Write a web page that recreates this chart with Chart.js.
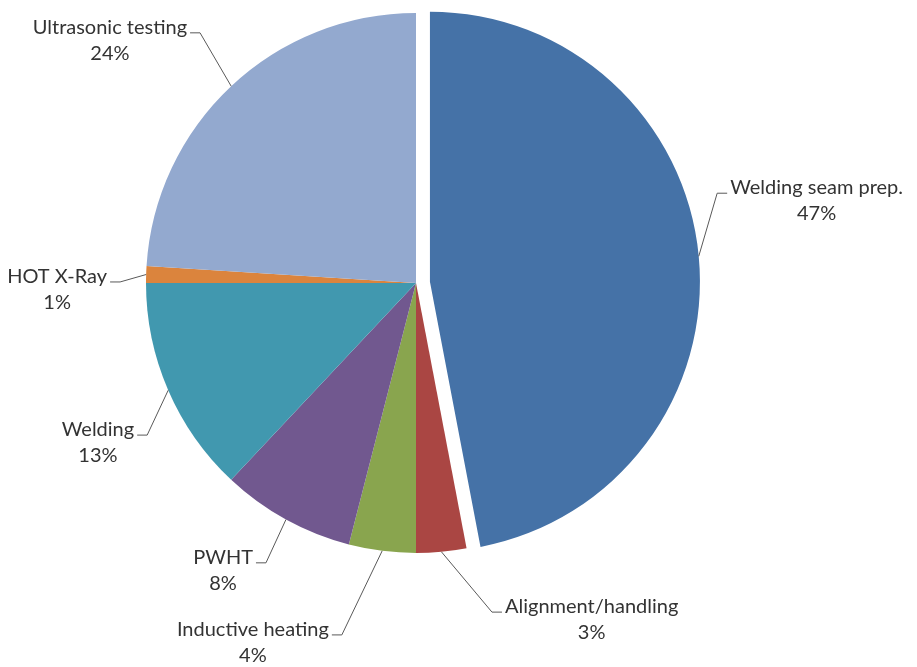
<!DOCTYPE html>
<html>
<head>
<meta charset="utf-8">
<title>Share of working time per process step</title>
<script src="https://cdn.jsdelivr.net/npm/chart.js@4/dist/chart.umd.min.js"></script>
<style>
  html, body { margin: 0; padding: 0; background: #ffffff; }
  #wrap { width: 917px; height: 667px; position: relative; }
</style>
</head>
<body>
<div id="wrap"><canvas id="pie" width="917" height="667"></canvas></div>
<script>
// Process steps, clockwise from 12 o'clock
const categories = [
  'Welding seam prep.',
  'Alignment/handling',
  'Inductive heating',
  'PWHT',
  'Welding',
  'HOT X-Ray',
  'Ultrasonic testing'
];
// Share of total time, percent
const shares = [47, 3, 4, 8, 13, 1, 24];

const sliceColors = ['#4572A7', '#AA4643', '#89A54E', '#71588F', '#4198AF', '#DB843D', '#93A9CF'];

// Pulled-out distance per slice (px)
const explodeBy = [14, 0, 0, 0, 0, 0, 0];

// Leader elbow for each label: angle clockwise from top (deg),
// distance from the pie centre in radii, and the side the text sits on
const labelPlacement = [
  { angle: 73.4,  dist: 1.164, side: 'right' },
  { angle: 167.0, dist: 1.251, side: 'right' },
  { angle: 191.9, dist: 1.332, side: 'left' },
  { angle: 208.2, dist: 1.176, side: 'left' },
  { angle: 240.5, dist: 1.144, side: 'left' },
  { angle: 270.2, dist: 1.096, side: 'left' },
  { angle: 319.2, dist: 1.224, side: 'left' }
];

const LABEL_FONT = '20px Lato, "Open Sans", sans-serif';
const TEXT_COLOR = '#333333';
const LEADER_COLOR = '#595959';

// Shift selected arcs outward along their mid-angle without resizing them
const explodePlugin = {
  id: 'explodeSlice',
  beforeDatasetsDraw(chart) {
    chart.getDatasetMeta(0).data.forEach((arc, i) => {
      const d = explodeBy[i] || 0;
      if (!d || arc._explodeWrapped) return;
      const baseDraw = arc.draw;
      arc.draw = function (ctx) {
        const mid = (this.startAngle + this.endAngle) / 2;
        ctx.save();
        ctx.translate(Math.cos(mid) * d, Math.sin(mid) * d);
        baseDraw.call(this, ctx);
        ctx.restore();
      };
      arc._explodeWrapped = true;
    });
  }
};

// Category name + percentage with a leader line back to the slice
const leaderLabelPlugin = {
  id: 'leaderLabels',
  afterDatasetsDraw(chart) {
    const ctx = chart.ctx;
    const arcs = chart.getDatasetMeta(0).data;
    const total = shares.reduce((a, b) => a + b, 0);
    ctx.save();
    ctx.font = LABEL_FONT;
    arcs.forEach((arc, i) => {
      const R = arc.outerRadius;
      const cx = arc.x, cy = arc.y;
      const mid = (arc.startAngle + arc.endAngle) / 2;
      const d = explodeBy[i] || 0;
      const sx = cx + Math.cos(mid) * (R + d);
      const sy = cy + Math.sin(mid) * (R + d);

      const p = labelPlacement[i];
      const a = (p.angle - 90) * Math.PI / 180;
      const ex = cx + Math.cos(a) * p.dist * R;
      const ey = cy + Math.sin(a) * p.dist * R;
      const dir = p.side === 'right' ? 1 : -1;
      const hx = ex + dir * 10;

      ctx.strokeStyle = LEADER_COLOR;
      ctx.lineWidth = 1;
      ctx.beginPath();
      ctx.moveTo(sx, sy);
      ctx.lineTo(ex, ey);
      ctx.lineTo(hx, ey);
      ctx.stroke();

      const name = categories[i];
      const pct = Math.round(shares[i] / total * 100) + '%';
      const w = ctx.measureText(name).width;
      const left = dir > 0 ? hx + 3 : hx - 3 - w;
      const centre = left + w / 2;
      ctx.fillStyle = TEXT_COLOR;
      ctx.textBaseline = 'alphabetic';
      ctx.textAlign = 'left';
      ctx.fillText(name, left, ey + 1);
      ctx.textAlign = 'center';
      ctx.fillText(pct, centre, ey + 27);
    });
    ctx.restore();
  }
};

new Chart(document.getElementById('pie'), {
  type: 'pie',
  data: {
    labels: categories,
    datasets: [{
      data: shares,
      backgroundColor: sliceColors,
      borderWidth: 0
    }]
  },
  options: {
    responsive: false,
    animation: false,
    radius: 270,
    layout: { padding: { left: 0, right: 85, top: 0, bottom: 101 } },
    plugins: {
      legend: { display: false },
      tooltip: { enabled: false }
    }
  },
  plugins: [explodePlugin, leaderLabelPlugin]
});
</script>
</body>
</html>
